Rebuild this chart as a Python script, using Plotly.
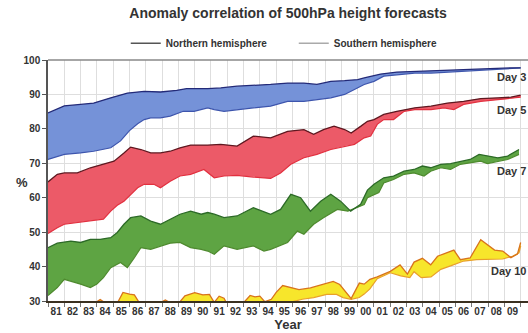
import plotly.graph_objects as go

# ---------------- data (12-month running mean anomaly correlation, %) ----------------
d3_nh_x = [1981.0, 1982.0, 1983.0, 1983.8, 1984.85, 1985.87, 1986.9, 1987.9, 1988.9, 1989.5, 1990.8,
           1991.6, 1992.6, 1993.6, 1994.66, 1995.7, 1996.7, 1997.5, 1998.35, 1999.2, 2000.0,
           2000.4, 2001.4, 2002.4, 2003.5, 2004.5, 2005.5, 2006.5, 2007.55, 2008.6, 2009.4, 2010.0]
d3_nh_y = [84.6, 86.7, 87.1, 87.5, 89.0, 90.4, 90.9, 90.7, 91.2, 91.7, 91.7,
           91.9, 92.4, 92.6, 92.9, 93.3, 93.3, 92.9, 93.8, 94.0, 94.3,
           94.8, 95.9, 96.5, 96.7, 96.9, 97.0, 97.1, 97.4, 97.7, 97.7, 97.7]
d3_sh_x = [1981.0, 1982.0, 1983.0, 1983.8, 1984.85, 1985.45, 1986.0, 1986.5, 1986.9, 1987.3, 1987.9,
           1988.5, 1989.3, 1989.96, 1990.8, 1991.2, 1991.8, 1992.6, 1993.6, 1994.66, 1995.7,
           1996.7, 1997.5, 1998.35, 1999.2, 2000.0, 2000.4, 2001.0, 2001.6, 2002.4, 2003.5,
           2004.5, 2005.5, 2006.5, 2007.55, 2008.6, 2009.4, 2010.0]
d3_sh_y = [71.1, 72.6, 73.0, 73.5, 74.5, 76.5, 79.5, 81.5, 82.7, 83.2, 83.2,
           83.7, 85.1, 85.1, 86.1, 85.6, 85.1, 85.6, 86.1, 86.6, 88.0,
           88.0, 88.5, 89.0, 90.0, 91.9, 92.9, 93.8, 95.3, 95.7, 96.2,
           96.2, 96.5, 96.7, 97.1, 97.4, 97.5, 97.7]

d5_nh_x = [1981.0, 1981.57, 1982.0, 1982.8, 1983.6, 1984.4, 1985.05, 1985.66, 1986.07, 1986.7, 1987.3,
           1987.9, 1988.5, 1989.1, 1989.75, 1990.8, 1991.6, 1992.6, 1993.6, 1994.66, 1995.7,
           1996.7, 1997.3, 1997.9, 1998.55, 1999.2, 1999.6, 2000.2, 2000.6, 2001.0, 2001.6,
           2002.4, 2003.5, 2004.5, 2005.5, 2006.5, 2007.55, 2008.6, 2009.4, 2010.0]
d5_nh_y = [64.6, 66.8, 67.2, 67.2, 68.7, 69.7, 70.6, 73.0, 74.7, 74.0, 73.0,
           73.0, 73.5, 74.5, 75.3, 75.3, 75.5, 75.0, 77.9, 77.4, 79.3,
           79.8, 78.4, 79.8, 80.8, 79.8, 78.8, 80.8, 82.2, 82.7, 84.2,
           85.1, 86.1, 86.6, 87.5, 88.0, 88.8, 89.0, 89.2, 89.8]
d5_sh_x = [1981.0, 1981.57, 1982.0, 1982.8, 1983.6, 1984.4, 1984.85, 1985.25, 1985.66, 1986.07, 1986.5,
           1986.9, 1987.5, 1987.9, 1988.5, 1989.1, 1989.75, 1990.57, 1991.2, 1991.8, 1992.6,
           1993.6, 1994.66, 1995.27, 1995.9, 1996.7, 1997.5, 1998.35, 1999.2, 1999.8, 2000.4,
           2000.8, 2001.2, 2001.6, 2002.2, 2002.85, 2003.5, 2004.5, 2005.3, 2005.9, 2006.5,
           2007.55, 2008.6, 2009.4, 2010.0]
d5_sh_y = [49.6, 51.3, 52.3, 52.8, 53.2, 53.8, 56.1, 57.8, 59.0, 61.0, 62.9,
           63.9, 63.9, 62.9, 64.8, 66.3, 66.8, 68.2, 65.8, 66.3, 66.5,
           66.0, 65.6, 67.2, 69.7, 71.6, 72.6, 74.0, 75.0, 75.5, 77.4,
           77.9, 81.3, 82.7, 82.7, 85.1, 85.6, 85.6, 86.1, 85.6, 87.1,
           88.0, 88.5, 88.8, 89.2]

d7_nh_x = [1981.0, 1981.57, 1982.4, 1983.0, 1983.6, 1984.2, 1984.85, 1985.25, 1985.66, 1986.07, 1986.7,
           1987.3, 1987.9, 1988.5, 1989.1, 1989.75, 1990.4, 1990.8, 1991.2, 1991.8, 1992.6,
           1993.6, 1994.66, 1995.27, 1995.9, 1996.5, 1997.1, 1997.73, 1998.35, 1998.95, 1999.57,
           2000.18, 2000.6, 2001.0, 2001.6, 2002.2, 2002.85, 2003.46, 2003.97, 2004.48, 2005.1,
           2005.7, 2006.3, 2006.9, 2007.45, 2007.96, 2008.6, 2009.2, 2009.9]
d7_nh_y = [45.5, 46.8, 47.4, 47.0, 47.9, 47.9, 48.4, 49.9, 52.3, 54.2, 54.7,
           53.2, 52.3, 53.7, 55.2, 56.1, 55.2, 55.7, 55.2, 54.2, 54.7,
           57.1, 55.2, 56.6, 61.0, 60.0, 56.1, 59.0, 61.0, 59.0, 56.1,
           58.1, 62.2, 63.9, 65.8, 66.3, 67.7, 68.2, 69.2, 68.7, 69.7,
           69.9, 70.4, 71.1, 72.6, 72.1, 71.6, 72.1, 74.0]
d7_sh_x = [1981.0, 1981.57, 1982.0, 1982.4, 1983.0, 1983.6, 1984.0, 1984.4, 1984.85, 1985.45, 1985.87,
           1986.3, 1986.7, 1987.3, 1987.9, 1988.5, 1989.1, 1989.75, 1990.4, 1990.8, 1991.2,
           1991.8, 1992.6, 1993.6, 1994.25, 1994.66, 1995.7, 1996.3, 1996.7, 1997.3, 1997.9,
           1998.75, 1999.4, 1999.98, 2000.4, 2000.6, 2001.3, 2001.6, 2002.2, 2002.85, 2003.46,
           2004.07, 2004.48, 2005.1, 2005.7, 2006.3, 2006.9, 2007.55, 2007.96, 2008.6, 2009.2, 2009.9]
d7_sh_y = [31.6, 33.9, 36.3, 35.8, 34.9, 33.9, 34.9, 36.8, 39.7, 41.2, 39.7,
           42.6, 45.5, 45.0, 46.0, 46.8, 47.0, 45.5, 45.0, 44.5, 43.6,
           46.0, 45.0, 46.0, 44.5, 45.0, 47.0, 50.3, 49.4, 52.3, 54.2,
           56.6, 56.1, 57.1, 58.0, 60.0, 61.5, 64.3, 65.3, 66.8, 67.2,
           66.3, 67.7, 68.7, 68.2, 69.7, 70.1, 70.6, 69.9, 70.6, 71.1, 72.6]

d10_nh_x = [1981.0, 1982.0, 1983.0, 1983.9, 1984.2, 1984.5, 1985.3, 1985.6, 1986.0, 1986.3, 1986.6,
            1987.5, 1988.2, 1988.6, 1989.1, 1989.4, 1990.0, 1990.5, 1990.9, 1991.2, 1991.5,
            1991.8, 1992.0, 1993.0, 1993.4, 1993.7, 1994.0, 1994.3, 1994.7, 1995.0, 1995.4,
            1995.8, 1996.4, 1997.1, 1997.9, 1998.5, 1998.9, 1999.3, 1999.6, 2000.1, 2000.4,
            2000.75, 2001.2, 2002.0, 2002.6, 2003.05, 2003.46, 2003.97, 2004.48, 2004.9, 2005.3,
            2005.9, 2006.3, 2006.9, 2007.55, 2007.96, 2008.4, 2008.9, 2009.4, 2009.8, 2010.0]
d10_nh_y = [28.5, 28.0, 28.5, 29.5, 30.4, 29.5, 29.8, 32.5, 32.0, 31.8, 29.5,
            28.5, 30.3, 29.2, 29.8, 31.5, 32.4, 31.8, 31.9, 29.6, 31.4,
            30.8, 29.0, 29.5, 31.6, 31.2, 31.4, 29.8, 30.5, 32.5, 34.5,
            34.1, 33.3, 33.8, 34.8, 35.7, 34.8, 32.4, 30.7, 35.2, 34.9,
            36.3, 37.0, 38.6, 40.5, 37.8, 41.3, 42.4, 40.5, 43.0, 43.8,
            44.8, 42.0, 42.5, 47.8, 46.3, 44.8, 44.5, 42.6, 43.6, 47.0]
d10_sh_x = [1981.0, 1985.0, 1990.0, 1993.0, 1995.2, 1996.0, 1996.6, 1997.3, 1998.1, 1998.7, 1999.1,
            1999.6, 2000.1, 2000.4, 2000.75, 2001.2, 2002.0, 2002.64, 2003.2, 2003.46, 2003.9,
            2004.5, 2005.1, 2005.7, 2006.5, 2007.3, 2008.0, 2008.9, 2009.5, 2009.9, 2010.0]
d10_sh_y = [25.0, 26.0, 27.0, 27.5, 28.5, 29.8, 30.5, 31.0, 31.9, 31.9, 31.0,
            30.5, 31.0, 32.0, 33.5, 36.5, 38.2, 37.3, 36.8, 38.5, 36.8,
            37.0, 39.2, 40.2, 41.6, 42.0, 42.1, 42.2, 43.0, 44.0, 46.0]

series_labels = ["Day 3", "Day 5", "Day 7", "Day 10"]
label_levels = [95.1, 85.5, 67.8, 38.8]
year_ticks = [1981.5 + i for i in range(30)]
year_labels = ["81", "82", "83", "84", "85", "86", "87", "88", "89", "90",
               "91", "92", "93", "94", "95", "96", "97", "98", "99", "00",
               "01", "02", "03", "04", "05", "06", "07", "08", "09", "10"]
y_ticks = [30, 40, 50, 60, 70, 80, 90, 100]

# ---------------- styles ----------------
fill_colors = ["#7592d8", "#ec5a68", "#5ea443", "#f7e62b"]
nh_colors = ["#232a78", "#5e1820", "#2c6a27", "#d8731c"]
sh_colors = ["#3d55ad", "#e2303f", "#4e8a2e", "#e9a02a"]
FONT = "Liberation Sans, Arial, Helvetica, sans-serif"
TXT = "#333333"

groups = [
    (d3_nh_x, d3_nh_y, d3_sh_x, d3_sh_y),
    (d5_nh_x, d5_nh_y, d5_sh_x, d5_sh_y),
    (d7_nh_x, d7_nh_y, d7_sh_x, d7_sh_y),
    (d10_nh_x, d10_nh_y, d10_sh_x, d10_sh_y),
]

fig = go.Figure()
for i, (nx, ny, sx, sy) in enumerate(groups):
    fig.add_trace(go.Scatter(x=nx + sx[::-1], y=ny + sy[::-1], fill="toself",
                             fillcolor=fill_colors[i], line=dict(width=0),
                             mode="lines", hoverinfo="skip", showlegend=False))
    fig.add_trace(go.Scatter(x=sx, y=sy, mode="lines",
                             line=dict(color=sh_colors[i], width=1.2), showlegend=False))
    fig.add_trace(go.Scatter(x=nx, y=ny, mode="lines",
                             line=dict(color=nh_colors[i], width=1.3), showlegend=False))

# legend entries
fig.add_trace(go.Scatter(x=[None], y=[None], mode="lines", name="Northern hemisphere",
                         line=dict(color="#555555", width=1.5)))
fig.add_trace(go.Scatter(x=[None], y=[None], mode="lines", name="Southern hemisphere",
                         line=dict(color="#aaaaaa", width=1.5)))

for lab, lev in zip(series_labels, label_levels):
    fig.add_annotation(x=1.0, y=lev, xref="paper", yref="y", text=lab, showarrow=False,
                       xanchor="right", yanchor="middle",
                       font=dict(family=FONT, size=11, color=TXT, weight="bold"))

fig.add_annotation(x=-0.055, y=0.49, xref="paper", yref="paper", text="%", showarrow=False,
                   xanchor="center", yanchor="middle",
                   font=dict(family=FONT, size=13, color=TXT, weight="bold"))

fig.update_layout(
    width=528, height=333,
    margin=dict(l=48, r=0, t=60, b=32),
    paper_bgcolor="white", plot_bgcolor="white",
    title=dict(text="Anomaly correlation of 500hPa height forecasts", x=0.5, xref="paper",
               xanchor="center", y=0.96, yanchor="middle",
               font=dict(family=FONT, size=14, color=TXT, weight="bold")),
    legend=dict(orientation="h", x=0.162, xanchor="left", y=1.07, yanchor="middle",
                font=dict(family=FONT, size=10, color=TXT, weight="bold"),
                bgcolor="rgba(0,0,0,0)", itemwidth=30, entrywidth=123),
    font=dict(family=FONT, color=TXT),
)
fig.update_xaxes(range=[1981, 2010.45], tickvals=year_ticks, ticktext=year_labels,
                 showgrid=False, ticks="", zeroline=False,
                 tickfont=dict(family=FONT, size=10, color=TXT, weight="bold"),
                 minor=dict(tick0=1981, dtick=1, showgrid=True, gridcolor="#dedede",
                            gridwidth=1, ticks="outside", ticklen=4, tickcolor="#777"),
                 showline=True, linecolor="#3a3020", linewidth=2, mirror=False,
                 title=dict(text="Year", standoff=2,
                            font=dict(family=FONT, size=13, color=TXT, weight="bold")))
fig.update_yaxes(range=[30, 100], tickvals=y_ticks, showgrid=True, gridcolor="#dedede",
                 zeroline=False, ticks="outside", ticklen=4, tickcolor="#555",
                 showline=True, linecolor="#555555", linewidth=1.5,
                 tickfont=dict(family=FONT, size=10, color=TXT, weight="bold"))
fig.add_shape(type="line", xref="paper", yref="paper", x0=0, x1=1, y0=1, y1=1,
              line=dict(color="#888888", width=1.5))

fig.write_html("out.html", config={"displayModeBar": False},
               post_script="document.body.style.margin='0';")
